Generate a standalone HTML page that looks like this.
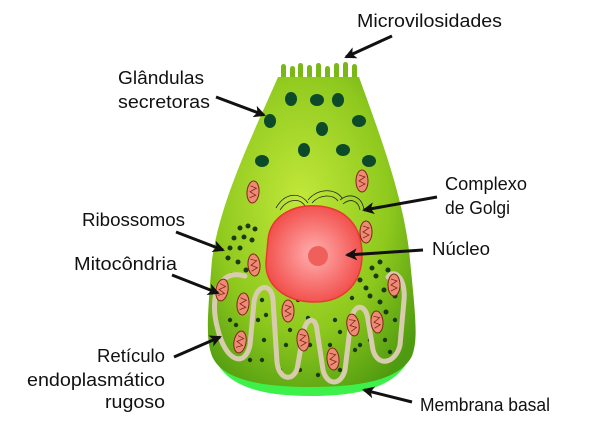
<!DOCTYPE html>
<html><head><meta charset="utf-8"><style>
html,body{margin:0;padding:0;background:#fff;}
svg{display:block;}
text{font-family:"Liberation Sans",sans-serif;font-size:18px;fill:#111;}
</style></head><body>
<svg width="600" height="434" viewBox="0 0 600 434" xmlns="http://www.w3.org/2000/svg">
<defs>
<radialGradient id="cg" cx="0.45" cy="0.4" r="0.7">
<stop offset="0" stop-color="#c2e83a"/><stop offset="0.6" stop-color="#8fc91e"/><stop offset="1" stop-color="#4e9a10"/>
</radialGradient>
<radialGradient id="ng" cx="0.5" cy="0.5" r="0.6">
<stop offset="0" stop-color="#ffb0b0"/><stop offset="1" stop-color="#f0403c"/>
</radialGradient>
<marker id="ar" markerWidth="12" markerHeight="12" refX="10" refY="6" orient="auto" markerUnits="userSpaceOnUse" viewBox="0 0 12 12">
<path d="M0,0 L12,6 L0,12 L3,6 Z" fill="#111"/>
</marker>
<g id="mito"><ellipse cx="0" cy="0" rx="6" ry="11" fill="#f08a78" stroke="#7a2a10" stroke-width="1"/><path d="M-3,-6 L3,-4 L-3,0 L3,3 L-3,6" fill="none" stroke="#7a2a10" stroke-width="0.8"/></g>
</defs>
<path d="M209,335 C212,382 250,396 311,396 C372,396 412,382 415,335 L415,325 C410,372 372,386 311,386 C250,386 214,372 209,325 Z" fill="#3ef04a"/>
<g fill="#7ab818">
<rect x="281" y="64" width="5" height="16" rx="2.5"/><rect x="290" y="66" width="5" height="14" rx="2.5"/>
<rect x="298" y="63" width="5" height="17" rx="2.5"/><rect x="307" y="65" width="5" height="15" rx="2.5"/>
<rect x="316" y="63" width="5" height="17" rx="2.5"/><rect x="325" y="66" width="5" height="14" rx="2.5"/>
<rect x="334" y="63" width="5" height="17" rx="2.5"/><rect x="343" y="62" width="5" height="18" rx="2.5"/>
<rect x="352" y="64" width="5" height="16" rx="2.5"/>
</g>
<path d="M278,77 L359,77 C378,130 405,200 410,260 C416,320 418,340 412,356 C400,380 360,387 311,387 C262,387 222,380 212,356 C206,340 207,320 212,260 C220,200 255,130 278,77 Z" fill="url(#cg)"/>
<g fill="#0c4a2a">
<ellipse cx="338" cy="100" rx="6" ry="7"/><ellipse cx="291" cy="99" rx="6" ry="7"/><ellipse cx="317" cy="100" rx="7" ry="6"/>
<ellipse cx="270" cy="121" rx="6" ry="7"/><ellipse cx="322" cy="129" rx="6" ry="7"/><ellipse cx="359" cy="121" rx="7" ry="6"/>
<ellipse cx="304" cy="150" rx="6" ry="7"/><ellipse cx="343" cy="150" rx="7" ry="6"/><ellipse cx="262" cy="161" rx="7" ry="6"/><ellipse cx="369" cy="161" rx="7" ry="6"/>
</g>
<g fill="none" stroke="#222" stroke-width="0.8">
<path d="M276,208 C285,192 300,192 308,203"/><path d="M280,210 C288,198 300,198 305,206"/>
<path d="M308,200 C318,188 335,188 342,198"/><path d="M312,203 C320,194 333,194 338,201"/>
<path d="M340,200 C350,192 362,196 364,210"/><path d="M343,204 C350,198 358,200 360,210"/>
</g>
<g fill="#1a3a18">
<circle cx="240" cy="228" r="2.5"/><circle cx="248" cy="226" r="2.5"/><circle cx="255" cy="229" r="2.5"/><circle cx="234" cy="238" r="2.5"/><circle cx="244" cy="237" r="2.5"/><circle cx="252" cy="240" r="2.5"/><circle cx="230" cy="248" r="2.5"/><circle cx="240" cy="248" r="2.5"/><circle cx="228" cy="258" r="2.5"/><circle cx="238" cy="262" r="2.5"/><circle cx="246" cy="270" r="2.5"/><circle cx="232" cy="275" r="2.5"/>
<circle cx="380" cy="262" r="2.5"/><circle cx="388" cy="270" r="2.5"/><circle cx="376" cy="276" r="2.5"/><circle cx="392" cy="282" r="2.5"/><circle cx="384" cy="290" r="2.5"/><circle cx="370" cy="296" r="2.5"/><circle cx="380" cy="302" r="2.5"/><circle cx="366" cy="288" r="2.5"/><circle cx="395" cy="296" r="2.5"/><circle cx="360" cy="280" r="2.5"/><circle cx="372" cy="268" r="2.5"/><circle cx="386" cy="312" r="2.5"/>
<circle cx="262" cy="300" r="2.2"/><circle cx="258" cy="320" r="2.2"/><circle cx="264" cy="340" r="2.2"/><circle cx="290" cy="330" r="2.2"/><circle cx="286" cy="345" r="2.2"/><circle cx="300" cy="355" r="2.2"/><circle cx="310" cy="345" r="2.2"/><circle cx="330" cy="345" r="2.2"/><circle cx="335" cy="320" r="2.2"/><circle cx="340" cy="370" r="2.2"/><circle cx="355" cy="350" r="2.2"/><circle cx="360" cy="345" r="2.2"/><circle cx="385" cy="340" r="2.2"/><circle cx="395" cy="320" r="2.2"/><circle cx="230" cy="320" r="2.2"/><circle cx="236" cy="325" r="2.2"/><circle cx="300" cy="370" r="2.2"/><circle cx="318" cy="375" r="2.2"/><circle cx="370" cy="340" r="2.2"/><circle cx="280" cy="370" r="2.2"/><circle cx="250" cy="360" r="2.2"/><circle cx="298" cy="300" r="2.2"/><circle cx="352" cy="298" r="2.2"/><circle cx="266" cy="315" r="2.2"/><circle cx="308" cy="318" r="2.2"/><circle cx="340" cy="332" r="2.2"/><circle cx="262" cy="360" r="2.2"/><circle cx="390" cy="352" r="2.2"/>
</g>
<path d="M268,240 C270,215 295,204 318,206 C345,208 362,225 362,255 C362,282 345,302 315,302 C285,302 265,285 266,262 Z" fill="url(#ng)" stroke="#e63a30" stroke-width="1.5"/>
<circle cx="318" cy="256" r="10" fill="#f0605a"/>
<path d="M245,276 C220,268 208,295 218,330 C226,362 245,368 250,345 L254,302 C257,283 272,283 273,300 L277,362 C279,382 296,382 298,364 L304,330 C307,317 316,317 317,330 L323,370 C327,386 341,386 345,370 L351,320 C354,303 366,303 368,320 L373,350 C378,368 396,363 400,345 L404,300 C406,278 394,268 388,277" fill="none" stroke="#d8ccae" stroke-width="5" stroke-linecap="round"/>
<use href="#mito" transform="translate(362,181)"/>
<use href="#mito" transform="translate(253,192) rotate(5)"/>
<use href="#mito" transform="translate(366,232)"/>
<use href="#mito" transform="translate(254,265) rotate(-5)"/>
<use href="#mito" transform="translate(222,290) rotate(10)"/>
<use href="#mito" transform="translate(243,304) rotate(5)"/>
<use href="#mito" transform="translate(288,311)"/>
<use href="#mito" transform="translate(240,342) rotate(10)"/>
<use href="#mito" transform="translate(303,340) rotate(-5)"/>
<use href="#mito" transform="translate(333,359) rotate(-5)"/>
<use href="#mito" transform="translate(353,325) rotate(-10)"/>
<use href="#mito" transform="translate(377,322) rotate(-5)"/>
<use href="#mito" transform="translate(394,285)"/>
<g stroke="#111" stroke-width="3" fill="none" marker-end="url(#ar)">
<line x1="392" y1="36" x2="346" y2="57"/>
<line x1="216" y1="97" x2="264" y2="115"/>
<line x1="437" y1="197" x2="364" y2="210"/>
<line x1="176" y1="232" x2="223" y2="250"/>
<line x1="423" y1="250" x2="347" y2="255"/>
<line x1="172" y1="275" x2="218" y2="293"/>
<line x1="174" y1="357" x2="220" y2="337"/>
<line x1="412" y1="402" x2="364" y2="390"/>
</g>
<text x="357" y="27" textLength="145" lengthAdjust="spacingAndGlyphs">Microvilosidades</text>
<text x="118" y="84" textLength="86" lengthAdjust="spacingAndGlyphs">Glândulas</text>
<text x="118" y="108" textLength="92" lengthAdjust="spacingAndGlyphs">secretoras</text>
<text x="445" y="190" textLength="82" lengthAdjust="spacingAndGlyphs">Complexo</text>
<text x="445" y="214" textLength="65" lengthAdjust="spacingAndGlyphs">de Golgi</text>
<text x="82" y="226" textLength="103" lengthAdjust="spacingAndGlyphs">Ribossomos</text>
<text x="432" y="255" textLength="58" lengthAdjust="spacingAndGlyphs">Núcleo</text>
<text x="74" y="270" textLength="103" lengthAdjust="spacingAndGlyphs">Mitocôndria</text>
<text x="97" y="362" textLength="68" lengthAdjust="spacingAndGlyphs">Retículo</text>
<text x="27" y="386" textLength="138" lengthAdjust="spacingAndGlyphs">endoplasmático</text>
<text x="105" y="408" textLength="60" lengthAdjust="spacingAndGlyphs">rugoso</text>
<text x="420" y="411" textLength="130" lengthAdjust="spacingAndGlyphs">Membrana basal</text>
</svg>
</body></html>
